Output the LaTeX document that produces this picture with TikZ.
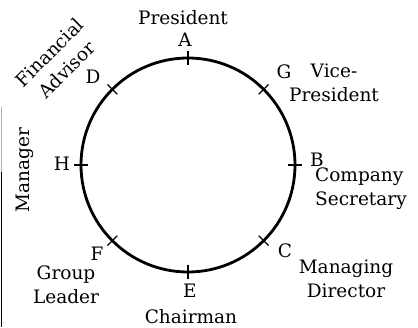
\documentclass[tikz,border=0pt]{standalone}
\usepackage{fontspec}
\setmainfont{DejaVu Serif}

\begin{document}
\begin{tikzpicture} [x=1pt, y=1pt, align=center,
    every node/.style={font=\fontsize{18.5}{24}\selectfont, inner sep=1pt},
    ring/.style={line width=2.8pt},
    tickmark/.style={line width=1.3pt}]
  \useasboundingbox (0,0) rectangle (418,327);
  \coordinate (O) at (188,162);
  \draw [ring] (O) circle [radius=107];
  \foreach \a in {0,45,...,315}
    \draw [tickmark] (O) ++(\a:100) -- ++(\a:14);
  \path  (185,287)  node(A) {A}
         (183,309)  node(PA) {President}
         (284,255)  node(G) {G}
         (334,244)  node(PG) {Vice-\\President}
         (317,167)  node(B) {B}
         (314,138)  node[anchor=west, align=left](PB) {Company\\Secretary}
         (285,76)   node(C) {C}
         (346,48)   node(PC) {Managing\\Director}
         (190,36)   node(E) {E}
         (191,10)   node(PE) {Chairman}
         (97,73)    node(F) {F}
         (66,42)    node(PF) {Group\\Leader}
         (62,163)   node(H) {H}
         (25,157)   node[rotate=90](PH) {Manager}
         (93,250)   node(D) {D}
         (58,266)   node[rotate=45](PD) {Financial\\Advisor};
  % scan edge
  \draw [gray!60, line width=1pt] (1.5,220) -- (1.5,155);
  \draw [line width=1.2pt] (1.5,155) -- (1.5,0);
\end{tikzpicture}
\end{document}
